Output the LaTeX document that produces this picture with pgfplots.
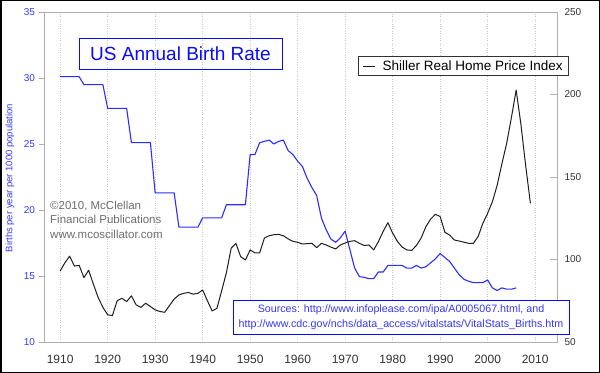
\documentclass[border=0pt]{standalone}
\usepackage{pgfplots}
\pgfplotsset{compat=1.18}
\usepackage{fontspec}
\setmainfont{Liberation Sans}
\definecolor{brblue}{RGB}{45,45,255}
\definecolor{ttblue}{RGB}{10,10,255}
\definecolor{lblblue}{RGB}{55,55,255}
\definecolor{framegray}{RGB}{175,175,175}
\definecolor{gridgray}{RGB}{200,200,200}
\definecolor{txtgray}{RGB}{50,50,50}
\definecolor{copygray}{RGB}{110,110,110}
\definecolor{shiller}{RGB}{30,30,30}

\pgfplotstableread{
year rate
1910 30.1
1911 30.1
1912 30.1
1913 30.1
1914 30.1
1915 29.5
1916 29.5
1917 29.5
1918 29.5
1919 29.5
1920 27.7
1921 27.7
1922 27.7
1923 27.7
1924 27.7
1925 25.1
1926 25.1
1927 25.1
1928 25.1
1929 25.1
1930 21.3
1931 21.3
1932 21.3
1933 21.3
1934 21.3
1935 18.7
1936 18.7
1937 18.7
1938 18.7
1939 18.7
1940 19.4
1941 19.4
1942 19.4
1943 19.4
1944 19.4
1945 20.4
1946 20.4
1947 20.4
1948 20.4
1949 20.4
1950 24.2
1951 24.2
1952 25.1
1953 25.2
1954 25.3
1955 25.0
1956 25.2
1957 25.3
1958 24.5
1959 24.2
1960 23.7
1961 23.3
1962 22.4
1963 21.7
1964 21.1
1965 19.4
1966 18.5
1967 17.8
1968 17.55
1969 17.9
1970 18.4
1971 17.0
1972 15.6
1973 14.95
1974 14.9
1975 14.8
1976 14.8
1977 15.3
1978 15.3
1979 15.8
1980 15.8
1981 15.8
1982 15.8
1983 15.6
1984 15.6
1985 15.8
1986 15.6
1987 15.7
1988 16.0
1989 16.3
1990 16.7
1991 16.4
1992 16.1
1993 15.6
1994 15.1
1995 14.75
1996 14.6
1997 14.5
1998 14.5
1999 14.5
2000 14.7
2001 14.1
2002 13.9
2003 14.1
2004 14.0
2005 14.0
2006 14.1
}\birthrate

\pgfplotstableread{
year idx
1910 93
1911 98
1912 102
1913 96
1914 96.5
1915 89
1916 93.5
1917 85
1918 77
1919 71
1920 66.5
1921 66
1922 75
1923 76.5
1924 74.5
1925 78
1926 72.5
1927 71
1928 73.5
1929 71.5
1930 69.5
1931 68.5
1932 68
1933 72
1934 76
1935 78.5
1936 79.5
1937 80
1938 79
1939 79.5
1940 81.5
1941 75
1942 68.8
1943 70.4
1944 81
1945 92
1946 106.8
1947 109.8
1948 101.7
1949 99.7
1950 105.8
1951 104
1952 104
1953 113
1954 114.4
1955 115
1956 115.2
1957 114.4
1958 112.5
1959 111
1960 110.4
1961 109.4
1962 109.6
1963 109.8
1964 107.2
1965 109.8
1966 108.8
1967 107.5
1968 106.4
1969 108.8
1970 110
1971 111
1972 111.4
1973 109.8
1974 108.5
1975 108.8
1976 105.8
1977 110.8
1978 117
1979 122.3
1980 116
1981 111
1982 107.5
1983 105.8
1984 105.5
1985 108.5
1986 113
1987 119.9
1988 124.5
1989 127.4
1990 126
1991 116.5
1992 114.8
1993 111.8
1994 111.2
1995 110.5
1996 109.8
1997 109.8
1998 114
1999 122
2000 128
2001 135
2002 145
2003 158
2004 170.4
2005 186
2006 202.7
2007 182
2008 157
2009 134
}\shillerdata

\begin{document}
\begin{tikzpicture}
\useasboundingbox (0,0) rectangle (600bp,373bp);
\fill[white] (0,0) rectangle (600bp,373bp);

\begin{axis}[
  at={(44bp,31bp)}, anchor=south west,
  scale only axis, width=513bp, height=330bp,
  xmin=1906.6, xmax=2014.6, ymin=10, ymax=35,
  xtick={1910,1920,...,2010},
  ytick={10,15,...,35},
  xmajorgrids,
  major x grid style={gridgray, dotted, line width=0.7bp},
  axis line style={framegray, line width=0.8bp},
  xtick style={draw=none},
  ytick pos=left,
  ytick align=outside,
  ytick style={framegray, line width=0.8bp},
  major tick length=5bp,
  /pgf/number format/assume math mode=true,
  xticklabel style={/pgf/number format/1000 sep=, font=\fontsize{12bp}{14bp}\selectfont, text=txtgray, yshift=-10bp},
  yticklabel style={font=\fontsize{10bp}{12bp}\selectfont, text=lblblue, xshift=-0.5bp},
]
\addplot[brblue, line width=1.1bp, line join=round] table[x=year, y=rate] {\birthrate};
\end{axis}

\begin{axis}[
  at={(44bp,31bp)}, anchor=south west,
  scale only axis, width=513bp, height=330bp,
  xmin=1906.6, xmax=2014.6, ymin=50, ymax=250,
  axis x line=none,
  axis y line*=right,
  ytick={50,100,...,250},
  axis line style={framegray, line width=0.8bp},
  ytick align=inside,
  ytick style={framegray, line width=0.8bp},
  major tick length=7bp,
  /pgf/number format/assume math mode=true,
  yticklabel style={font=\fontsize{10bp}{12bp}\selectfont, text=txtgray, xshift=4bp},
  legend style={at={(0.818,0.836)}, anchor=center, draw=txtgray, line width=0.9bp,
    font=\fontsize{13.5bp}{16bp}\selectfont, inner xsep=4bp, inner ysep=2bp},
  legend image code/.code={\draw[shiller, line width=0.9bp] (0bp,0bp) -- (12bp,0bp); \path (17bp,0bp);},
]
\addplot[shiller, line width=1.0bp, line join=round] table[x=year, y=idx] {\shillerdata};
\addlegendentry{Shiller Real Home Price Index}
\end{axis}

% title box
\node[draw=ttblue, line width=0.9bp, text=ttblue, minimum width=203bp, minimum height=31bp, inner sep=0pt,
  font=\fontsize{19bp}{22bp}\selectfont] at (180.5bp,319.5bp) {US Annual Birth Rate};

% y label
\node[rotate=90, text=lblblue, font=\fontsize{9.5bp}{11bp}\selectfont] at (10bp,195bp) {Births per year per 1000 population};

% copyright
\node[anchor=north west, align=left, text=copygray, inner sep=0pt,
  font=\fontsize{11.5bp}{14.3bp}\selectfont] at (50bp,172bp)
  {©2010, McClellan\\Financial Publications\\www.mcoscillator.com};

% sources box
\node[draw=ttblue, line width=0.9bp, fill=white, text=lblblue, align=center, minimum width=336bp, minimum height=33.5bp, inner sep=0pt,
  font=\fontsize{10.7bp}{15.6bp}\selectfont] at (401bp,55.7bp)
  {Sources: http://www.infoplease.com/ipa/A0005067.html, and\\http://www.cdc.gov/nchs/data\_access/vitalstats/VitalStats\_Births.htm};

\draw[black, line width=1.5bp] (0.75bp,0.75bp) rectangle (599.25bp,372.25bp);
\end{tikzpicture}
\end{document}
